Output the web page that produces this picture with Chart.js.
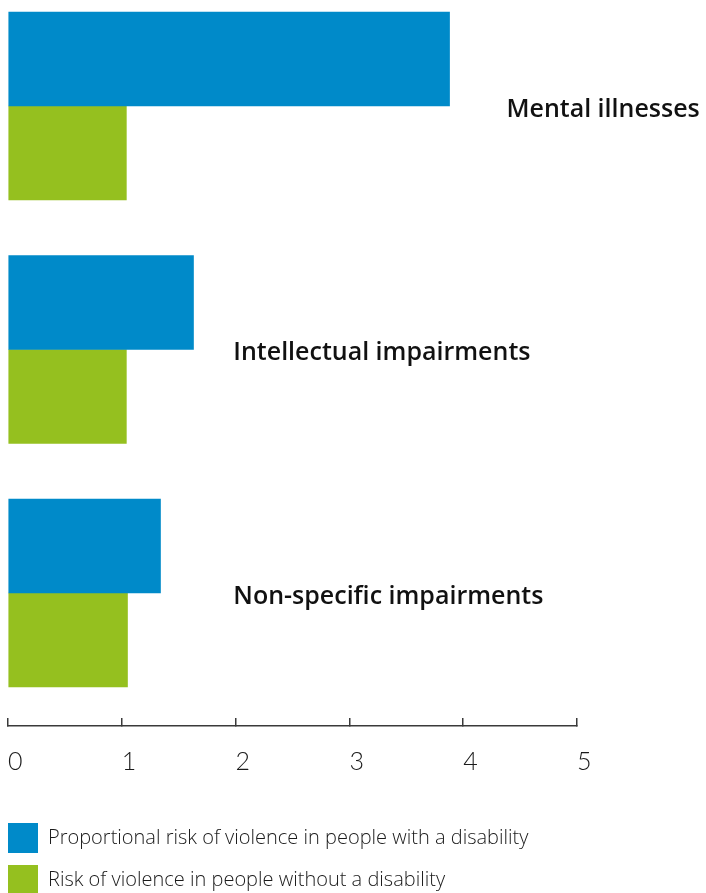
<!DOCTYPE html>
<html>
<head>
<meta charset="utf-8">
<script src="https://cdn.jsdelivr.net/npm/chart.js@4"></script>
<style>
	html, body { margin: 0; padding: 0; background: #fff; overflow: hidden; }
	#wrap { position: relative; width: 706px; height: 905px; }
</style>
</head>
<body>
<div id="wrap"><canvas id="riskChart"></canvas></div>
<script>
//chart values
const categories = ['Mental illnesses', 'Intellectual impairments', 'Non-specific impairments'];
const withDisability = [3.88, 1.63, 1.34];
const withoutDisability = [1.04, 1.04, 1.05];
const xTicks = [0, 1, 2, 3, 4, 5];
const seriesNames = ['Proportional risk of violence in people with a disability', 'Risk of violence in people without a disability'];

//where the category names sit, in x axis units
const labelAt = [4.38, 1.98, 1.98];

const blue = 'rgb(0, 138, 201)';
const green = 'rgb(149, 192, 31)';

//draws the category names next to the bars
const categoryLabels = {
	id: 'categoryLabels',
	afterDatasetsDraw(chart) {
		const ctx = chart.ctx;
		const x = chart.scales.x;
		const y = chart.scales.y;
		ctx.save();
		ctx.font = '600 25px "Open Sans"';
		ctx.fillStyle = '#111';
		ctx.textAlign = 'left';
		ctx.textBaseline = 'alphabetic';
		categories.forEach((name, i) => {
			ctx.fillText(name, x.getPixelForValue(labelAt[i]), y.getPixelForValue(i) + 11);
		});
		ctx.restore();
	}
};

const ctx = document.getElementById('riskChart').getContext('2d');
new Chart(ctx, {
	type: 'bar',
	data: {
		labels: categories.map((c, i) => i),
		datasets: [{
			label: seriesNames[0],
			data: withDisability,
			backgroundColor: blue,
			borderWidth: 0
		}, {
			label: seriesNames[1],
			data: withoutDisability,
			backgroundColor: green,
			borderWidth: 0
		}]
	},
	options: {
		indexAxis: 'y',
		responsive: true,
		maintainAspectRatio: false,
		animation: false,
		barThickness: 94,
		layout: {
			padding: { left: -4, right: 129, top: 0, bottom: 0 }
		},
		scales: {
			x: {
				type: 'linear',
				min: 0,
				max: 5,
				afterBuildTicks: (scale) => { scale.ticks = xTicks.map(v => ({ value: v })); },
				afterFit: (scale) => { scale.height = 85; },
				border: { color: '#3a3a3a', width: 1.5 },
				grid: { drawOnChartArea: false, tickLength: -8, color: '#3a3a3a', lineWidth: 1.5 },
				ticks: {
					align: 'start',
					padding: 4,
					color: '#1a1a1a',
					font: { family: 'Lato', size: 25, weight: 300, lineHeight: 3.2 }
				}
			},
			y: {
				type: 'linear',
				reverse: true,
				offset: false,
				min: -0.4353,
				max: 2.5462,
				display: false,
				afterFit: (scale) => { scale.width = 12; }
			}
		},
		plugins: {
			tooltip: { enabled: false },
			legend: {
				position: 'bottom',
				align: 'start',
				labels: {
					boxWidth: 30,
					boxHeight: 30,
					padding: 12,
					color: '#1a1a1a',
					font: { family: 'Open Sans', size: 20, weight: 300 }
				}
			}
		}
	},
	plugins: [categoryLabels]
});
</script>
</body>
</html>
